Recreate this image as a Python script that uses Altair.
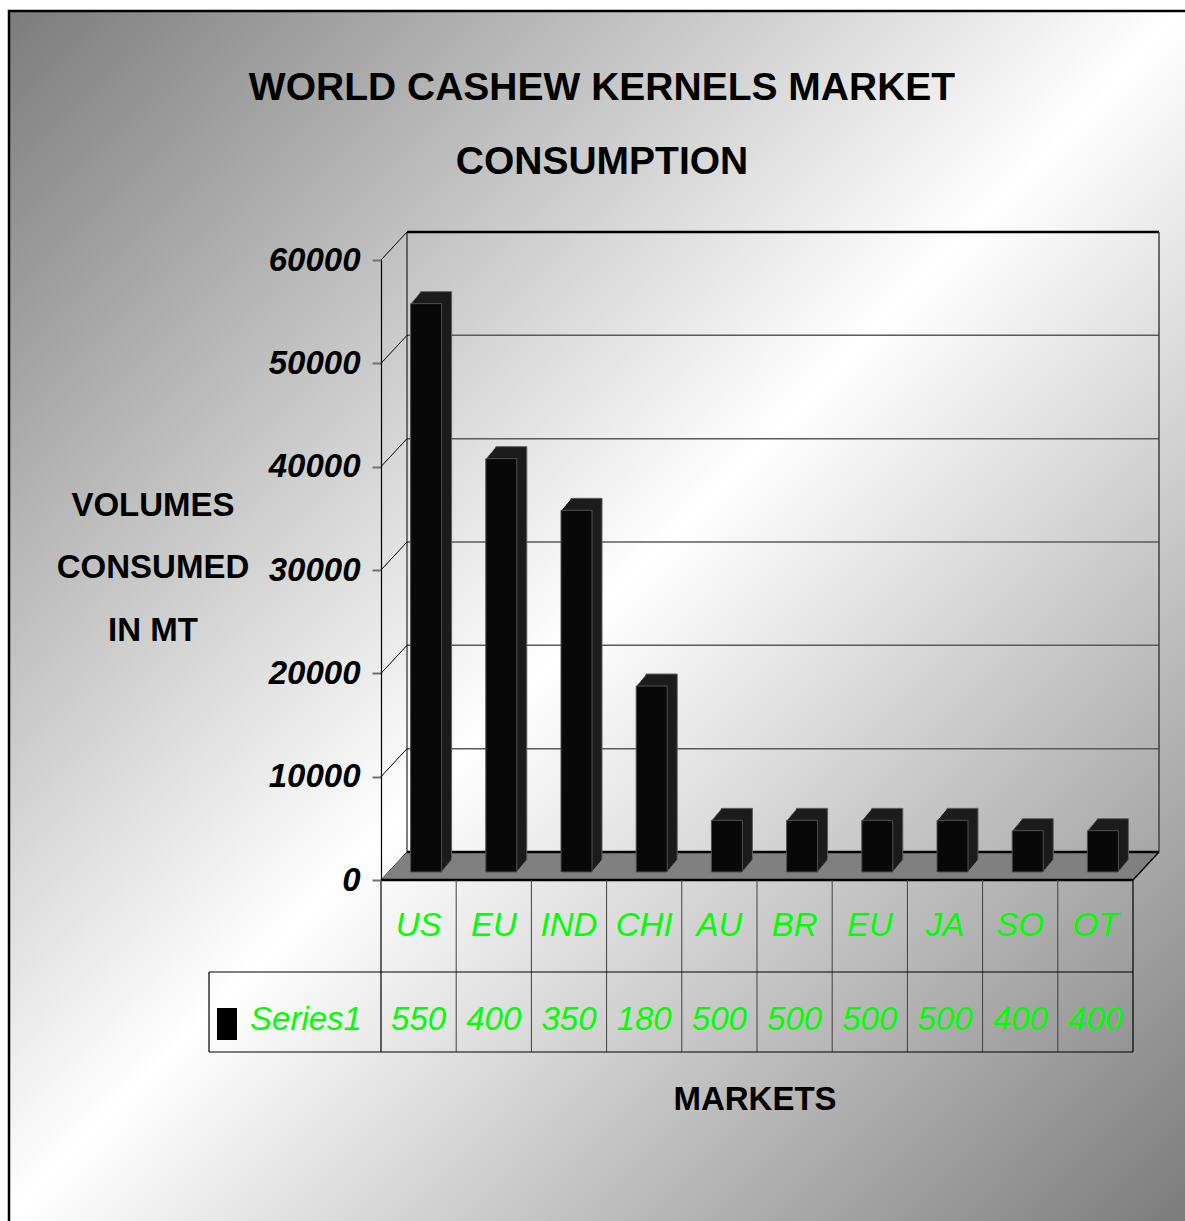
import altair as alt
import pandas as pd

# ---------------- data ----------------
categories = ["US", "EU", "IND", "CHI", "AU", "BR", "EU", "JA", "SO", "OT"]
volumes = [55000, 40000, 35000, 18000, 5000, 5000, 5000, 5000, 4000, 4000]
table_values = ["550", "400", "350", "180", "500", "500", "500", "500", "400", "400"]
y_ticks = [0, 10000, 20000, 30000, 40000, 50000, 60000]
series_name = "Series1"
title_lines = ["WORLD CASHEW KERNELS MARKET", "CONSUMPTION"]
y_title_lines = ["VOLUMES", "CONSUMED", "IN MT"]
x_title = "MARKETS"

# ---------------- layout / style ----------------
FONT = "Liberation Sans, Arial, sans-serif"
FS = 33                  # general text size
W, H = 752, 620          # front face of the plot
DX, DY = 26, 28          # 3-D depth of walls
PAD_L, PAD_T = 381, 260
TOTAL_W, TOTAL_H = 1185, 1221
ROW1, ROW2 = 92, 80      # data table rows
LEG_W = 172
GREEN = "#00ff00"

df = pd.DataFrame({"idx": list(range(len(categories))), "cat": categories,
                   "vol": volumes, "lab": table_values})
grid_df = pd.DataFrame({"tick": y_ticks})
one = pd.DataFrame({"k": [0]})

xs = alt.Scale(domain=list(range(len(categories))), paddingInner=0, paddingOuter=0)
ys = alt.Scale(domain=[0, 60000], nice=False)
X = alt.X("idx:O", scale=xs, axis=None)

yaxis = alt.Axis(values=y_ticks, format="d", grid=False, title=None, zindex=1,
                 domainColor="black", domainWidth=1.2, tickColor="#707070", tickSize=9,
                 tickWidth=2, labelFont=FONT, labelFontSize=FS, labelFontWeight="bold",
                 labelFontStyle="italic", labelColor="black", labelPadding=12,
                 labelOverlap=False, labelFlush=False, labelBaseline="middle")

def Yt():
    return alt.Y("tick:Q", scale=ys, axis=yaxis)

def Yv():
    return alt.Y("vol:Q", scale=ys, axis=yaxis)

layers = []

# background gradient
grad = alt.LinearGradient(gradient="linear", x1=0, y1=0, x2=1, y2=1,
                          stops=[alt.GradientStop(color="#7c7c7c", offset=0),
                                 alt.GradientStop(color="#ffffff", offset=0.5),
                                 alt.GradientStop(color="#7c7c7c", offset=1)])
layers.append(alt.Chart(one).mark_rect(fill=grad).encode(
    x=alt.value(8 - PAD_L), x2=alt.value(TOTAL_W - PAD_L),
    y=alt.value(10 - PAD_T), y2=alt.value(TOTAL_H - PAD_T)))

# back wall gridlines
layers.append(alt.Chart(grid_df[(grid_df.tick > 0) & (grid_df.tick < 60000)]).mark_rule(
    color="#5a5a5a", strokeWidth=1.5, yOffset=-DY).encode(
    y=Yt(), x=alt.value(DX), x2=alt.value(W + DX)))
layers.append(alt.Chart(grid_df[grid_df.tick == 60000]).mark_rule(
    color="black", strokeWidth=2.5, yOffset=-DY).encode(
    y=Yt(), x=alt.value(DX), x2=alt.value(W + DX)))
# left wall diagonals
layers.append(alt.Chart(grid_df).mark_rule(color="black", strokeWidth=1, y2Offset=-DY).encode(
    y=Yt(), y2="tick:Q", x=alt.value(0), x2=alt.value(DX)))
# back wall vertical edges
layers.append(alt.Chart(one).mark_rule(color="black", strokeWidth=1).encode(
    x=alt.value(DX), y=alt.value(-DY), y2=alt.value(H - DY)))
layers.append(alt.Chart(one).mark_rule(color="#404040", strokeWidth=1.5).encode(
    x=alt.value(W + DX), y=alt.value(-DY), y2=alt.value(H - DY)))

# floor
floor_df = pd.DataFrame({"fx": [0, DX, W, W + DX], "fy": [H, H - DY, H - DY, H - DY],
                         "fy2": [H, H, H, H - DY]})
layers.append(alt.Chart(floor_df).mark_area(color="#808080").encode(
    x=alt.X("fx:Q", scale=None), y=alt.Y("fy:Q", scale=None), y2="fy2:Q"))
layers.append(alt.Chart(one).mark_rule(color="black", strokeWidth=2.5).encode(
    x=alt.value(DX), x2=alt.value(W + DX), y=alt.value(H - DY)))
layers.append(alt.Chart(one).mark_rule(color="black", strokeWidth=1.5).encode(
    x=alt.value(W), x2=alt.value(W + DX), y=alt.value(H), y2=alt.value(H - DY)))

# 3-D bars: extrusion then front face
BX, BY, BW, DEP = 7.5, -8, 31, 10
for i in range(DEP, 0, -1):
    kw = dict(width=BW, xOffset=BX + i, yOffset=BY - 1.2 * i, y2Offset=BY - 1.2 * i,
              color="#1c1c1c")
    if i == DEP:
        kw.update(stroke="#606060", strokeWidth=1)
    layers.append(alt.Chart(df).mark_bar(**kw).encode(x=X, y=Yv()))

layers.append(alt.Chart(df).mark_bar(width=BW, xOffset=BX, yOffset=BY, y2Offset=BY,
                                     color="#080808", stroke="#505050", strokeWidth=1).encode(
    x=X, y=Yv()))

# floor front edge
layers.append(alt.Chart(one).mark_rule(color="black", strokeWidth=2.5).encode(
    x=alt.value(0), x2=alt.value(W), y=alt.value(H)))

# data table
layers.append(alt.Chart(df[df.idx > 0]).mark_rule(color="#404040", strokeWidth=1).encode(
    x=alt.X("idx:O", scale=xs, axis=None, bandPosition=0),
    y=alt.value(H), y2=alt.value(H + ROW1 + ROW2)))
for xv in (0, W):
    layers.append(alt.Chart(one).mark_rule(color="black", strokeWidth=1.2).encode(
        x=alt.value(xv), y=alt.value(H), y2=alt.value(H + ROW1 + ROW2)))
layers.append(alt.Chart(one).mark_rule(color="black", strokeWidth=1.2).encode(
    x=alt.value(-LEG_W), y=alt.value(H + ROW1), y2=alt.value(H + ROW1 + ROW2)))
for yv in (H + ROW1, H + ROW1 + ROW2):
    layers.append(alt.Chart(one).mark_rule(color="black", strokeWidth=1.2).encode(
        x=alt.value(-LEG_W), x2=alt.value(W), y=alt.value(yv)))

layers.append(alt.Chart(df).mark_text(font=FONT, fontSize=FS, fontStyle="italic", color=GREEN,
                                      baseline="middle", align="center").encode(
    x=X, y=alt.value(H + 46), text="cat:N"))
layers.append(alt.Chart(df).mark_text(font=FONT, fontSize=FS, fontStyle="italic", color=GREEN,
                                      baseline="middle", align="center").encode(
    x=X, y=alt.value(H + ROW1 + 48), text="lab:N"))
layers.append(alt.Chart(pd.DataFrame({"s": [series_name]})).mark_text(
    font=FONT, fontSize=FS, fontStyle="italic", color=GREEN, baseline="middle", align="center").encode(
    x=alt.value(-75), y=alt.value(H + ROW1 + 48), text="s:N"))
layers.append(alt.Chart(one).mark_rect(color="black").encode(
    x=alt.value(-164), x2=alt.value(-144), y=alt.value(H + ROW1 + 36), y2=alt.value(H + ROW1 + 68)))

# titles
tdf = pd.DataFrame({"t": title_lines, "ty": [88 - PAD_T, 162 - PAD_T]})
layers.append(alt.Chart(tdf).mark_text(font=FONT, fontSize=39, fontWeight="bold", color="black",
                                       baseline="middle", align="center").encode(
    x=alt.value(602 - PAD_L), y=alt.Y("ty:Q", scale=None), text="t:N"))
ydf = pd.DataFrame({"t": y_title_lines, "ty": [506 - PAD_T, 568 - PAD_T, 631 - PAD_T]})
layers.append(alt.Chart(ydf).mark_text(font=FONT, fontSize=FS, fontWeight="bold", color="black",
                                       baseline="middle", align="center").encode(
    x=alt.value(153 - PAD_L), y=alt.Y("ty:Q", scale=None), text="t:N"))
layers.append(alt.Chart(pd.DataFrame({"t": [x_title]})).mark_text(
    font=FONT, fontSize=FS, fontWeight="bold", color="black", baseline="middle", align="center").encode(
    x=alt.value(755 - PAD_L), y=alt.value(1100 - PAD_T), text="t:N"))

# outer frame
layers.append(alt.Chart(one).mark_rect(fill="transparent", stroke="black", strokeWidth=2.5).encode(
    x=alt.value(9 - PAD_L), x2=alt.value(TOTAL_W - PAD_L + 20),
    y=alt.value(11 - PAD_T), y2=alt.value(TOTAL_H - PAD_T + 20)))

chart = alt.layer(*layers).properties(
    width=W, height=H,
    padding={"left": PAD_L, "top": PAD_T, "right": TOTAL_W - PAD_L - W, "bottom": TOTAL_H - PAD_T - H},
    autosize=alt.AutoSizeParams(type="none"),
    background="white",
).configure_view(stroke=None)

chart.save("out.html", embed_options={"renderer": "svg", "actions": False})
